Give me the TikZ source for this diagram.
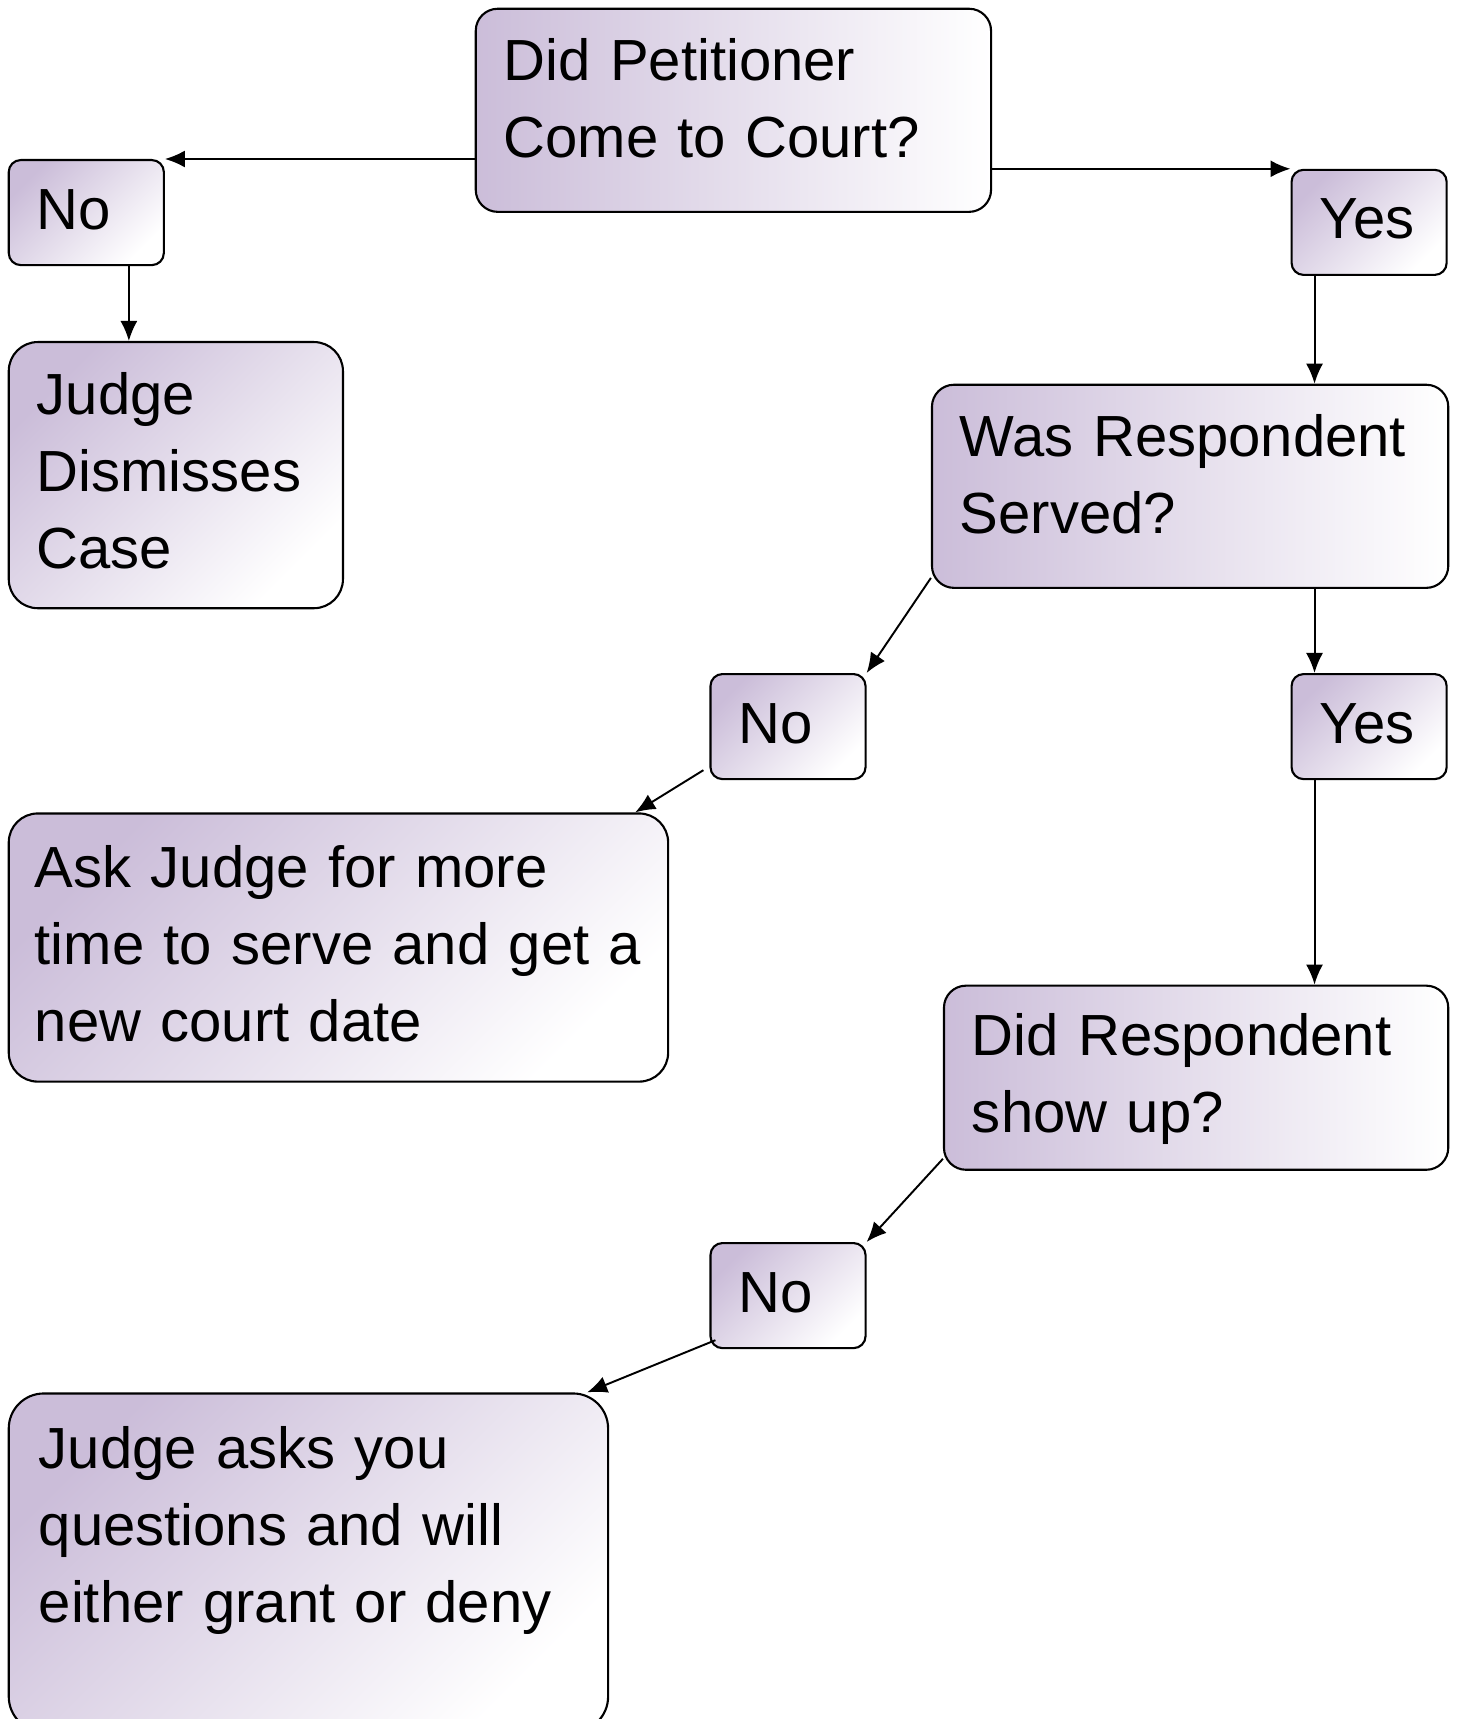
\documentclass[tikz,border=0pt]{standalone}
\usepackage{fontspec}
\setmainfont{Liberation Sans}
\usetikzlibrary{arrows.meta}
\definecolor{lilac}{RGB}{203,189,217}
\tikzset{
	box/.style={draw,line width=0.6pt,anchor=north west,align=left,inner xsep=0.28cm,inner ysep=0pt,
		font=\fontsize{16.5}{21.9}\selectfont,left color=lilac,right color=white},
	flatbox/.style={box,shading angle=90,rounded corners=0.22cm},
	tiltbox/.style={box,shading angle=45},
	small/.style={tiltbox,rounded corners=0.12cm,text width=0.99cm,text height=0.69cm,text depth=0.36cm},
	link/.style={-{Latex[length=0.2cm,width=0.17cm]},line width=0.55pt}
}
\begin{document}
\begin{tikzpicture}[x=0.01cm,y=-0.01cm]
	\useasboundingbox (0,0) rectangle (1456,1719);
	\path (474.7,7.7) node[flatbox,text width=4.59cm,text height=0.72cm,text depth=1.31cm] (q1) {Did Petitioner\\Come to Court?}
	(7.7,159) node[small] (no1) {No}
	(7.7,341) node[tiltbox,rounded corners=0.29cm,text width=2.78cm,text height=0.72cm,text depth=1.94cm] (dis) {Judge\\Dismisses\\Case}
	(1290.5,168.8) node[small] (yes1) {Yes}
	(930.9,383.7) node[flatbox,text width=4.60cm,text height=0.72cm,text depth=1.31cm] (served) {Was Respondent\\Served?}
	(709.4,673) node[small] (no2) {No}
	(1290.5,673) node[small] (yes2) {Yes}
	(7.7,812.4) node[tiltbox,rounded corners=0.29cm,inner xsep=0.26cm,text width=6.07cm,text height=0.74cm,text depth=1.94cm] (ask) {Ask Judge for more\\time to serve and get a\\new court date}
	(942.9,984.6) node[flatbox,text width=4.48cm,text height=0.70cm,text depth=1.14cm] (show) {Did Respondent\\show up?}
	(709.4,1242) node[small] (no3) {No}
	(7.7,1392.4) node[tiltbox,rounded corners=0.35cm,inner xsep=0.3cm,text width=5.39cm,text height=0.75cm,text depth=2.63cm] (grant) {Judge asks you\\questions and will\\either grant or deny};
	% petitioner
	\draw[link] (q1.west |- no1.north east) -- (no1.north east);
	\draw[link] (q1.east |- yes1.north west) -- (yes1.north west);
	\draw[link] ([xshift=-0.36cm]no1.south east) -- ([xshift=-0.36cm]no1.south east |- dis.north);
	% served
	\draw[link] ([xshift=0.24cm]yes1.south west) -- ([xshift=0.24cm]yes1.south west |- served.north);
	\draw[link] ([xshift=0.24cm]yes2.north west |- served.south) -- ([xshift=0.24cm]yes2.north west);
	\draw[link] ([yshift=0.11cm]served.south west) -- (no2.north east);
	\draw[link] ([xshift=-0.06cm,yshift=0.1cm]no2.south west) -- ([xshift=-0.34cm]ask.north east);
	% respondent
	\draw[link] ([xshift=0.24cm]yes2.south west) -- ([xshift=0.24cm]yes2.south west |- show.north);
	\draw[link] ([yshift=0.12cm]show.south west) -- (no3.north east);
	\draw[link] ([xshift=0.06cm,yshift=0.09cm]no3.south west) -- ([xshift=-0.22cm]grant.north east);
\end{tikzpicture}
\end{document}
